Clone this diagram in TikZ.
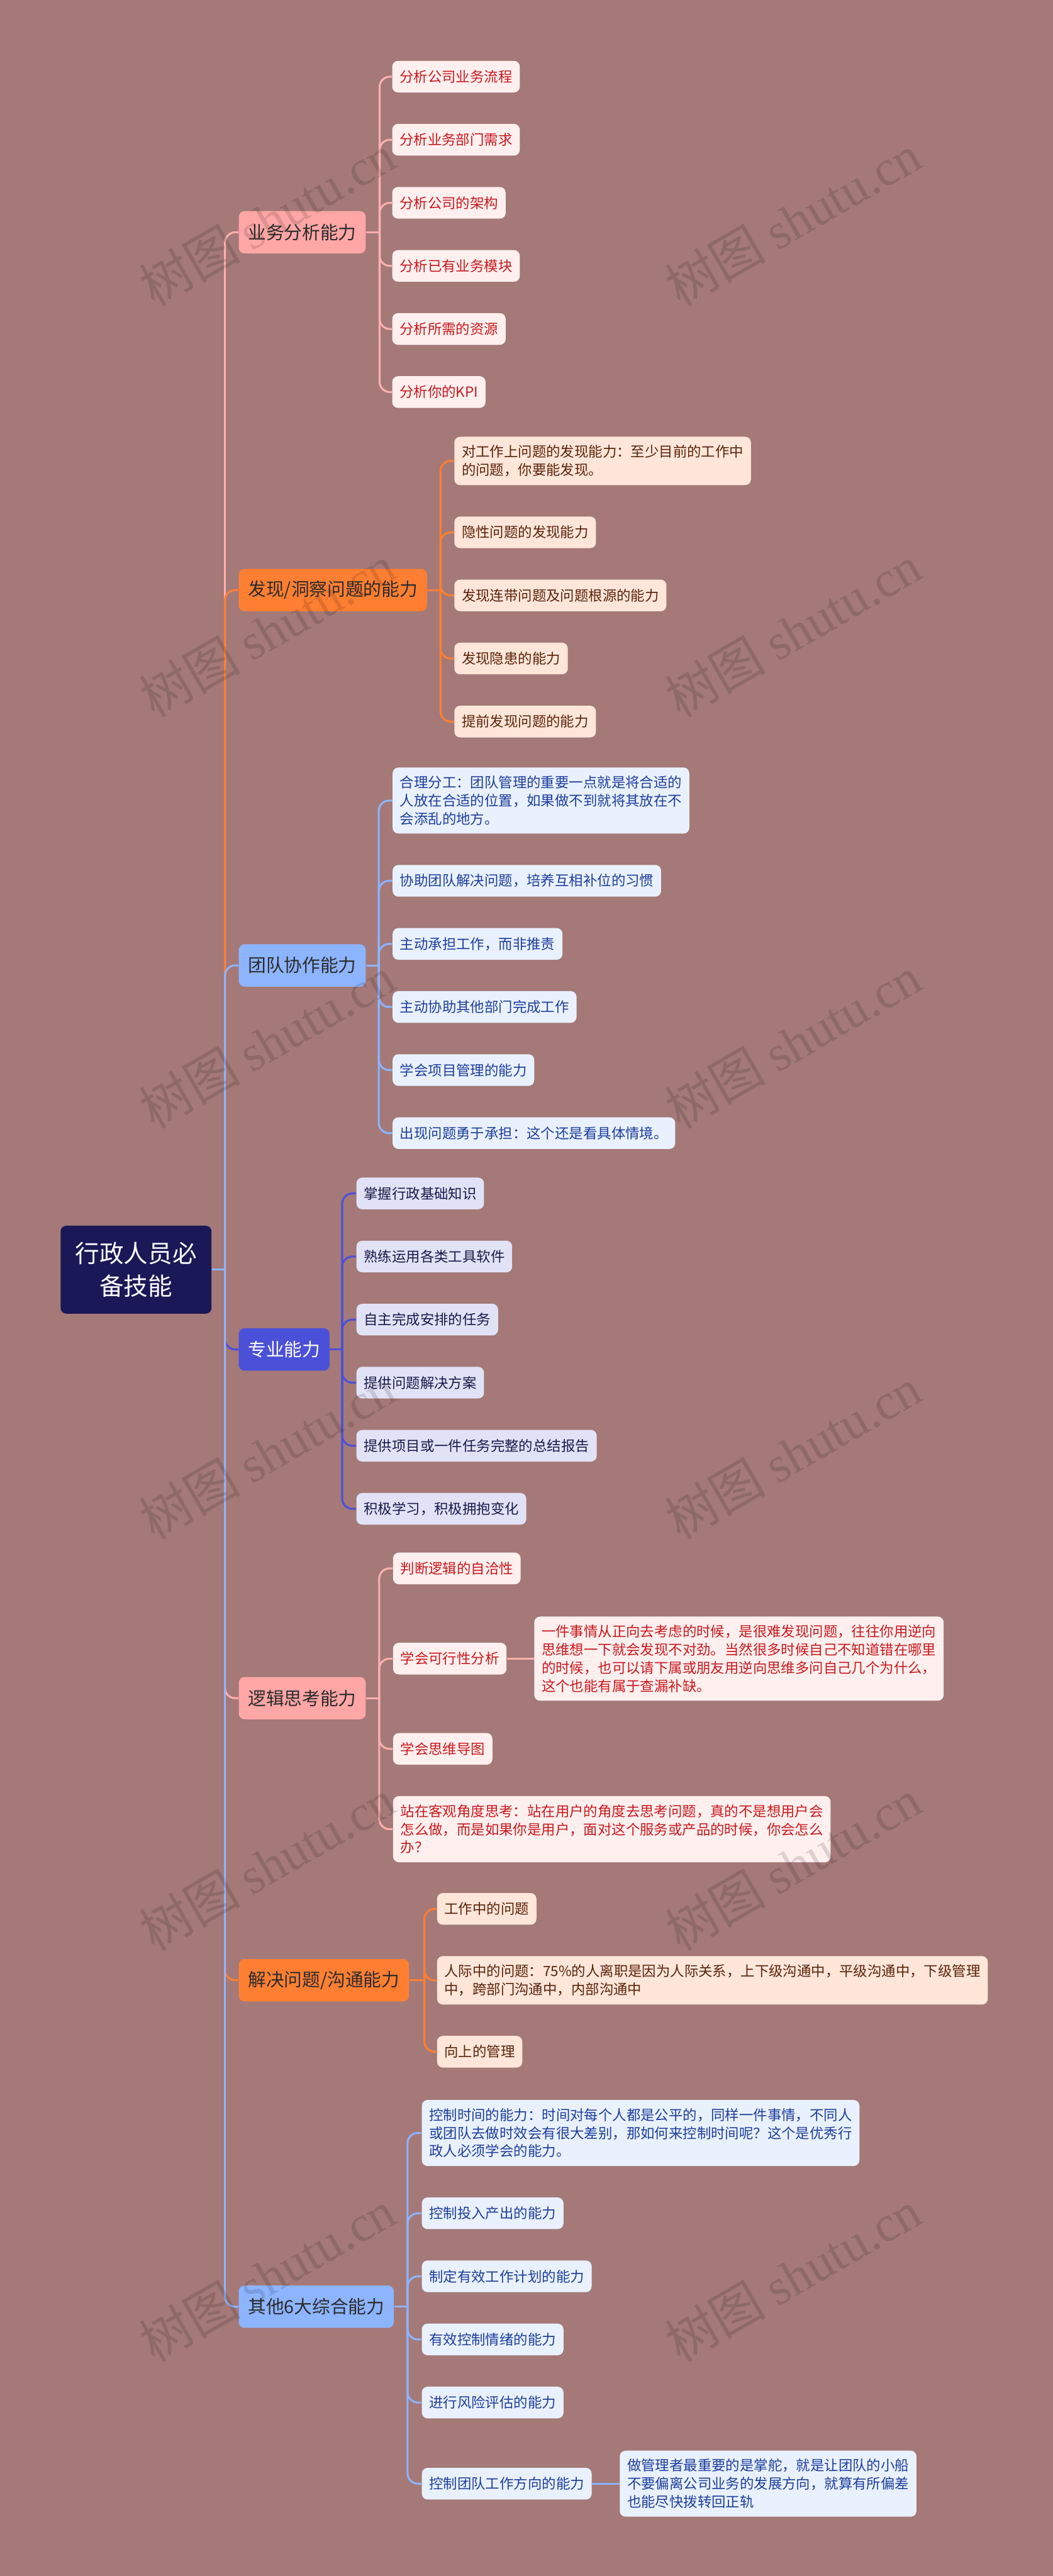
\documentclass[tikz,border=0pt]{standalone}
\usepackage{fontspec}
\setmainfont{Noto Sans CJK SC}
\newfontfamily\markserif{Liberation Serif}
\usepackage{tikz}
\usetikzlibrary{positioning, calc}
\usepackage{xcolor}
\definecolor{cBg}{RGB}{164,121,120}
\definecolor{cRoot}{RGB}{27,24,87}
\definecolor{cDark}{RGB}{43,43,43}
\definecolor{cPink}{RGB}{255,166,166}
\definecolor{cPinkLine}{RGB}{255,176,174}
\definecolor{cPinkLeaf}{RGB}{255,240,239}
\definecolor{cPinkText}{RGB}{200,25,30}
\definecolor{cOrange}{RGB}{255,127,50}
\definecolor{cPeach}{RGB}{255,230,217}
\definecolor{cBrown}{RGB}{90,35,10}
\definecolor{cSky}{RGB}{141,180,255}
\definecolor{cSkyLeaf}{RGB}{233,241,254}
\definecolor{cSkyText}{RGB}{29,62,156}
\definecolor{cIndigo}{RGB}{75,80,217}
\definecolor{cLav}{RGB}{226,226,246}
\definecolor{cNavyText}{RGB}{25,25,75}
\tikzset{
  basebox/.style={rectangle, rounded corners=4pt, align=left,
                  inner xsep=0.18cm, inner ysep=0.205cm},
  rootnode/.style={basebox, fill=cRoot, text=white, align=center,
                   minimum width=3.67cm, minimum height=2.14cm,
                   font=\fontsize{16.8}{22.5}\selectfont},
  branchnode/.style={basebox, inner xsep=0.225cm, minimum height=1.03cm,
                     text=cDark, font=\fontsize{12.5}{15}\selectfont},
  pinkbranch/.style={branchnode, fill=cPink},
  orangebranch/.style={branchnode, fill=cOrange},
  skybranch/.style={branchnode, fill=cSky},
  indigobranch/.style={branchnode, fill=cIndigo, text=white},
  leafnode/.style={basebox, minimum height=0.77cm,
                   font=\fontsize{9.75}{12.5}\selectfont},
  pinkleaf/.style={leafnode, fill=cPinkLeaf, text=cPinkText},
  peachleaf/.style={leafnode, fill=cPeach, text=cBrown},
  skyleaf/.style={leafnode, fill=cSkyLeaf, text=cSkyText},
  lavleaf/.style={leafnode, fill=cLav, text=cNavyText},
  link/.style={line width=1.35pt, rounded corners=0.25cm},
  pinkline/.style={link, draw=cPinkLine},
  orangeline/.style={link, draw=cOrange},
  skyline/.style={link, draw=cSky},
  indigoline/.style={link, draw=cIndigo},
  wmark/.style={rotate=30, text=black, text opacity=0.13,
                font=\fontsize{35}{40}\selectfont}
}

\begin{document}
\begin{tikzpicture}

  \fill[cBg] (0,0) rectangle (25.6,-62.65);
  \useasboundingbox (0,0) rectangle (25.6,-62.65);

  \node[rootnode, anchor=east] (root) at (5.15,-30.88) {行政人员必\\备技能};

  \node[pinkbranch, anchor=west] (biz) at (5.80,-5.65) {业务分析能力};
  \node[orangebranch, anchor=west] (find) at (5.80,-14.35) {发现/洞察问题的能力};
  \node[skybranch, anchor=west] (team) at (5.80,-23.48) {团队协作能力};
  \node[indigobranch, anchor=west] (pro) at (5.80,-32.82) {专业能力};
  \node[pinkbranch, anchor=west] (logic) at (5.80,-41.30) {逻辑思考能力};
  \node[orangebranch, anchor=west] (solve) at (5.80,-48.16) {解决问题/沟通能力};
  \node[skybranch, anchor=west] (other) at (5.80,-56.10) {其他6大综合能力};

  \node[pinkleaf, anchor=west] (biz_1) at (9.53,-1.865) {分析公司业务流程};
  \node[pinkleaf, below=0.75cm of biz_1.south west, anchor=north west] (biz_2) {分析业务部门需求};
  \node[pinkleaf, below=0.75cm of biz_2.south west, anchor=north west] (biz_3) {分析公司的架构};
  \node[pinkleaf, below=0.75cm of biz_3.south west, anchor=north west] (biz_4) {分析已有业务模块};
  \node[pinkleaf, below=0.75cm of biz_4.south west, anchor=north west] (biz_5) {分析所需的资源};
  \node[pinkleaf, below=0.75cm of biz_5.south west, anchor=north west] (biz_6) {分析你的KPI};

  \node[peachleaf, anchor=west] (find_1) at (11.04,-11.21)
      {对工作上问题的发现能力：至少目前的工作中\\的问题，你要能发现。};
  \node[peachleaf, below=0.75cm of find_1.south west, anchor=north west] (find_2) {隐性问题的发现能力};
  \node[peachleaf, below=0.75cm of find_2.south west, anchor=north west] (find_3) {发现连带问题及问题根源的能力};
  \node[peachleaf, below=0.75cm of find_3.south west, anchor=north west] (find_4) {发现隐患的能力};
  \node[peachleaf, below=0.75cm of find_4.south west, anchor=north west] (find_5) {提前发现问题的能力};

  \node[skyleaf, anchor=west] (team_1) at (9.54,-19.47)
      {合理分工：团队管理的重要一点就是将合适的\\人放在合适的位置，如果做不到就将其放在不\\会添乱的地方。};
  \node[skyleaf, below=0.75cm of team_1.south west, anchor=north west] (team_2) {协助团队解决问题，培养互相补位的习惯};
  \node[skyleaf, below=0.75cm of team_2.south west, anchor=north west] (team_3) {主动承担工作，而非推责};
  \node[skyleaf, below=0.75cm of team_3.south west, anchor=north west] (team_4) {主动协助其他部门完成工作};
  \node[skyleaf, below=0.75cm of team_4.south west, anchor=north west] (team_5) {学会项目管理的能力};
  \node[skyleaf, below=0.75cm of team_5.south west, anchor=north west] (team_6) {出现问题勇于承担：这个还是看具体情境。};

  \node[lavleaf, anchor=west] (pro_1) at (8.66,-29.025) {掌握行政基础知识};
  \node[lavleaf, below=0.75cm of pro_1.south west, anchor=north west] (pro_2) {熟练运用各类工具软件};
  \node[lavleaf, below=0.75cm of pro_2.south west, anchor=north west] (pro_3) {自主完成安排的任务};
  \node[lavleaf, below=0.75cm of pro_3.south west, anchor=north west] (pro_4) {提供问题解决方案};
  \node[lavleaf, below=0.75cm of pro_4.south west, anchor=north west] (pro_5) {提供项目或一件任务完整的总结报告};
  \node[lavleaf, below=0.75cm of pro_5.south west, anchor=north west] (pro_6) {积极学习，积极拥抱变化};

  \node[pinkleaf, anchor=west] (logic_1) at (9.55,-38.145) {判断逻辑的自洽性};
  \node[pinkleaf, below=1.41cm of logic_1.south west, anchor=north west] (logic_2) {学会可行性分析};
  \node[pinkleaf, right=0.66cm of logic_2] (logic_2a)
      {一件事情从正向去考虑的时候，是很难发现问题，往往你用逆向\\思维想一下就会发现不对劲。当然很多时候自己不知道错在哪里\\的时候，也可以请下属或朋友用逆向思维多问自己几个为什么，\\这个也能有属于查漏补缺。};
  \node[pinkleaf, below=1.41cm of logic_2.south west, anchor=north west] (logic_3) {学会思维导图};
  \node[pinkleaf, below=0.75cm of logic_3.south west, anchor=north west] (logic_4)
      {站在客观角度思考：站在用户的角度去思考问题，真的不是想用户会\\怎么做，而是如果你是用户，面对这个服务或产品的时候，你会怎么\\办？};

  \node[peachleaf, anchor=west] (solve_1) at (10.62,-46.425) {工作中的问题};
  \node[peachleaf, below=0.75cm of solve_1.south west, anchor=north west] (solve_2)
      {人际中的问题：75\%的人离职是因为人际关系，上下级沟通中，平级沟通中，下级管理\\中，跨部门沟通中，内部沟通中};
  \node[peachleaf, below=0.75cm of solve_2.south west, anchor=north west] (solve_3) {向上的管理};

  \node[skyleaf, anchor=west] (other_1) at (10.25,-51.875)
      {控制时间的能力：时间对每个人都是公平的，同样一件事情，不同人\\或团队去做时效会有很大差别，那如何来控制时间呢？这个是优秀行\\政人必须学会的能力。};
  \node[skyleaf, below=0.75cm of other_1.south west, anchor=north west] (other_2) {控制投入产出的能力};
  \node[skyleaf, below=0.75cm of other_2.south west, anchor=north west] (other_3) {制定有效工作计划的能力};
  \node[skyleaf, below=0.75cm of other_3.south west, anchor=north west] (other_4) {有效控制情绪的能力};
  \node[skyleaf, below=0.75cm of other_4.south west, anchor=north west] (other_5) {进行风险评估的能力};
  \node[skyleaf, below=1.19cm of other_5.south west, anchor=north west] (other_6) {控制团队工作方向的能力};
  \node[skyleaf, right=0.67cm of other_6] (other_6a)
      {做管理者最重要的是掌舵，就是让团队的小船\\不要偏离公司业务的发展方向，就算有所偏差\\也能尽快拨转回正轨};

  \coordinate (hub) at (5.47,-30.88);
  \coordinate (biz_j) at ($(biz_1.west |- biz.east)+(-0.30,0)$);
  \coordinate (find_j) at ($(find_1.west |- find.east)+(-0.33,0)$);
  \coordinate (team_j) at ($(team_1.west |- team.east)+(-0.33,0)$);
  \coordinate (pro_j) at ($(pro_1.west |- pro.east)+(-0.34,0)$);
  \coordinate (logic_j) at ($(logic_1.west |- logic.east)+(-0.33,0)$);
  \coordinate (solve_j) at ($(solve_1.west |- solve.east)+(-0.30,0)$);
  \coordinate (other_j) at ($(other_1.west |- other.east)+(-0.34,0)$);

  \draw[pinkline] (hub) |- (biz.west);
  \draw[orangeline] (hub) |- (find.west);
  \draw[skyline] (hub) |- (team.west);
  \draw[indigoline] (hub) |- (pro.west);
  \draw[pinkline] (hub) |- (logic.west);
  \draw[orangeline] (hub) |- (solve.west);
  \draw[skyline] (hub) |- (other.west);
  \draw[skyline] (root.east) -- (hub);

  \draw[pinkline] (biz.east) -- (biz_j);
  \draw[pinkline] (biz_j) |- (biz_1.west);
  \draw[pinkline] (biz_j) |- (biz_2.west);
  \draw[pinkline] (biz_j) |- (biz_3.west);
  \draw[pinkline] (biz_j) |- (biz_4.west);
  \draw[pinkline] (biz_j) |- (biz_5.west);
  \draw[pinkline] (biz_j) |- (biz_6.west);

  \draw[orangeline] (find.east) -- (find_j);
  \draw[orangeline] (find_j) |- (find_1.west);
  \draw[orangeline] (find_j) |- (find_2.west);
  \draw[orangeline] (find_j) |- (find_3.west);
  \draw[orangeline] (find_j) |- (find_4.west);
  \draw[orangeline] (find_j) |- (find_5.west);

  \draw[skyline] (team.east) -- (team_j);
  \draw[skyline] (team_j) |- (team_1.west);
  \draw[skyline] (team_j) |- (team_2.west);
  \draw[skyline] (team_j) |- (team_3.west);
  \draw[skyline] (team_j) |- (team_4.west);
  \draw[skyline] (team_j) |- (team_5.west);
  \draw[skyline] (team_j) |- (team_6.west);

  \draw[indigoline] (pro.east) -- (pro_j);
  \draw[indigoline] (pro_j) |- (pro_1.west);
  \draw[indigoline] (pro_j) |- (pro_2.west);
  \draw[indigoline] (pro_j) |- (pro_3.west);
  \draw[indigoline] (pro_j) |- (pro_4.west);
  \draw[indigoline] (pro_j) |- (pro_5.west);
  \draw[indigoline] (pro_j) |- (pro_6.west);

  \draw[pinkline] (logic.east) -- (logic_j);
  \draw[pinkline] (logic_j) |- (logic_1.west);
  \draw[pinkline] (logic_j) |- (logic_2.west);
  \draw[pinkline] (logic_j) |- (logic_3.west);
  \draw[pinkline] (logic_j) |- (logic_4.west);
  \draw[pinkline] (logic_2.east) -- (logic_2a.west);

  \draw[orangeline] (solve.east) -- (solve_j);
  \draw[orangeline] (solve_j) |- (solve_1.west);
  \draw[orangeline] (solve_j) |- (solve_2.west);
  \draw[orangeline] (solve_j) |- (solve_3.west);

  \draw[skyline] (other.east) -- (other_j);
  \draw[skyline] (other_j) |- (other_1.west);
  \draw[skyline] (other_j) |- (other_2.west);
  \draw[skyline] (other_j) |- (other_3.west);
  \draw[skyline] (other_j) |- (other_4.west);
  \draw[skyline] (other_j) |- (other_5.west);
  \draw[skyline] (other_j) |- (other_6.west);
  \draw[skyline] (other_6.east) -- (other_6a.west);

  \node[wmark] (wm_1) at (6.50,-5.35) {树图 {\markserif shutu.cn}};
  \node[wmark] (wm_2) at (19.28,-5.35) {树图 {\markserif shutu.cn}};
  \node[wmark] (wm_3) at (6.50,-15.35) {树图 {\markserif shutu.cn}};
  \node[wmark] (wm_4) at (19.28,-15.35) {树图 {\markserif shutu.cn}};
  \node[wmark] (wm_5) at (6.50,-25.35) {树图 {\markserif shutu.cn}};
  \node[wmark] (wm_6) at (19.28,-25.35) {树图 {\markserif shutu.cn}};
  \node[wmark] (wm_7) at (6.50,-35.35) {树图 {\markserif shutu.cn}};
  \node[wmark] (wm_8) at (19.28,-35.35) {树图 {\markserif shutu.cn}};
  \node[wmark] (wm_9) at (6.50,-45.35) {树图 {\markserif shutu.cn}};
  \node[wmark] (wm_10) at (19.28,-45.35) {树图 {\markserif shutu.cn}};
  \node[wmark] (wm_11) at (6.50,-55.35) {树图 {\markserif shutu.cn}};
  \node[wmark] (wm_12) at (19.28,-55.35) {树图 {\markserif shutu.cn}};

\end{tikzpicture}
\end{document}
